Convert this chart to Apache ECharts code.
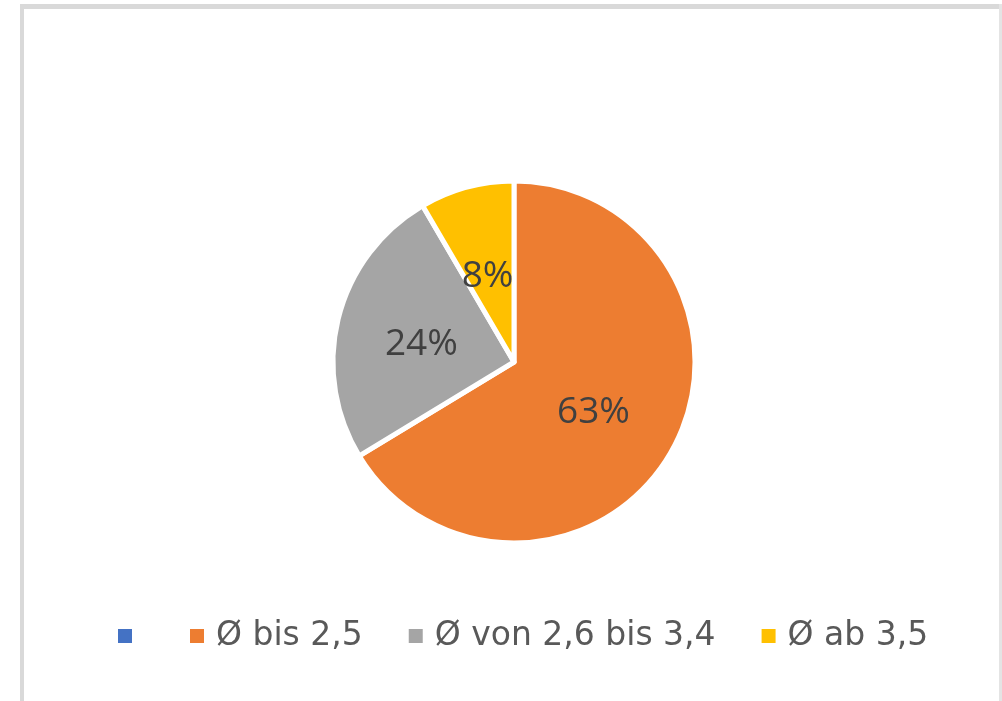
<!DOCTYPE html>
<html>
<head>
<meta charset="utf-8">
<style>
  html, body { margin: 0; padding: 0; background: #ffffff; }
  #chart { width: 1002px; height: 701px; }
</style>
<script src="https://cdn.jsdelivr.net/npm/echarts@6/dist/echarts.min.js"></script>
</head>
<body>
<div id="chart"></div>
<script>
// Data
const categories = ['\u200b', 'Ø bis 2,5', 'Ø von 2,6 bis 3,4', 'Ø ab 3,5'];
const values = [0, 63, 24, 8];           // percent
const colors = ['#4472C4', '#ED7D31', '#A5A5A5', '#FFC000'];

const chart = echarts.init(document.getElementById('chart'), null, { renderer: 'canvas' });

const pieData = categories.map((name, i) => ({
  name: name,
  value: values[i],
  itemStyle: { color: colors[i] },
  label: { show: values[i] > 0 }
}));

chart.setOption({
  animation: false,
  backgroundColor: '#ffffff',
  graphic: [
    { type: 'rect', shape: { x: 20, y: 4, width: 4, height: 697 }, style: { fill: '#d9d9d9' }, silent: true },
    { type: 'rect', shape: { x: 20, y: 4, width: 982, height: 5 }, style: { fill: '#d9d9d9' }, silent: true },
    { type: 'rect', shape: { x: 999, y: 4, width: 3, height: 697 }, style: { fill: '#e4e4e4' }, silent: true }
  ],
  legend: {
    data: categories,
    left: 116,
    top: 616,
    padding: 0,
    orient: 'horizontal',
    icon: 'rect',
    itemWidth: 16,
    itemHeight: 16,
    itemGap: 44,
    selectedMode: false,
    textStyle: {
      fontFamily: 'DejaVu Sans',
      fontSize: 33,
      color: '#595959',
      lineHeight: 40,
      padding: [0, 0, 0, 6]
    }
  },
  series: [{
    type: 'pie',
    center: [514, 362],
    radius: [0, 181],
    startAngle: 90,
    clockwise: true,
    data: pieData,
    itemStyle: { borderColor: '#ffffff', borderWidth: 5 },
    label: {
      show: true,
      position: 'inside',
      formatter: '{c}%',
      fontFamily: 'Open Sans',
      fontSize: 37,
      color: '#404040',
      offset: [-2, 5]
    },
    labelLine: { show: false },
    emphasis: { disabled: true }
  }]
});
</script>
</body>
</html>
